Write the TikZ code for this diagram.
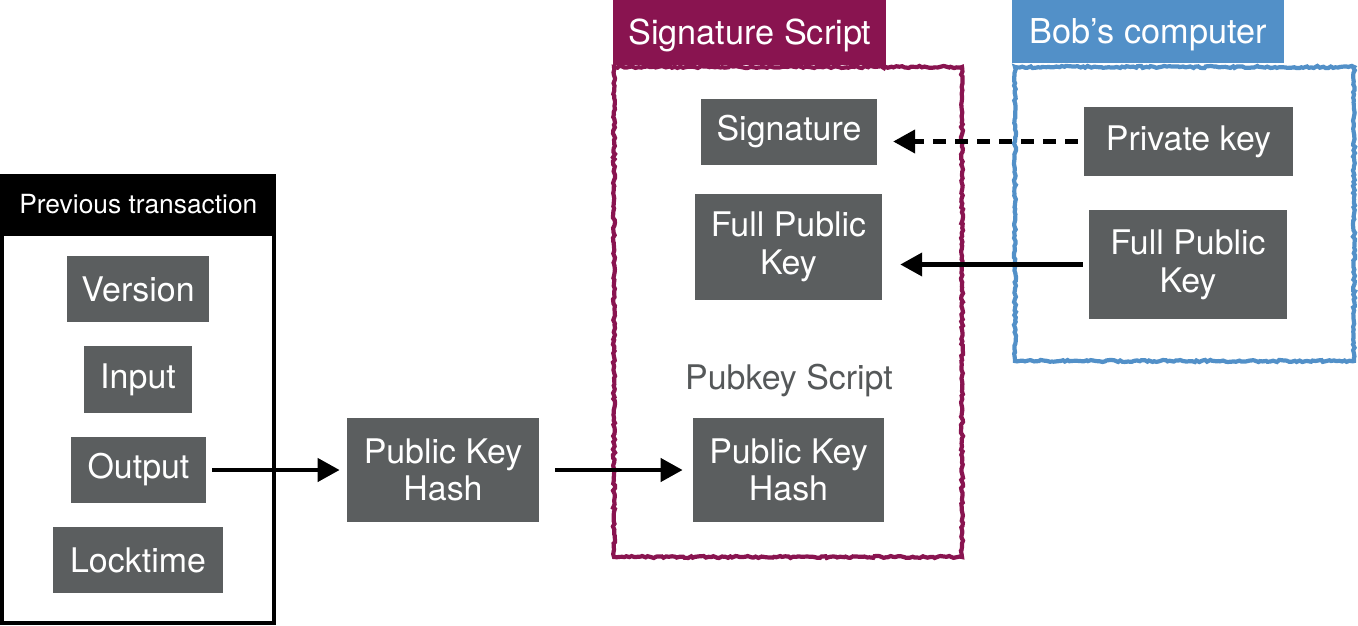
\documentclass[tikz,border=0pt]{standalone}
\usepackage{fontspec}
\setmainfont{TeX Gyre Heros}
\usetikzlibrary{arrows.meta,decorations.pathmorphing}
\definecolor{boxgray}{RGB}{91,94,95}
\definecolor{sigred}{RGB}{137,20,80}
\definecolor{bobblue}{RGB}{82,144,200}
\definecolor{labelgray}{RGB}{85,88,89}
\begin{document}
\begin{tikzpicture}[x=0.02cm,y=-0.02cm,>={Triangle[length=12.5pt,width=13pt]},
    field/.style={fill=boxgray,text=white,inner sep=0pt,align=center,
      font=\fontsize{19.3}{21.5}\selectfont},
    head/.style={inner sep=0pt,text=white,anchor=north west,text depth=0.1em,
      font=\fontsize{19.5}{22}\selectfont},
    rough/.style={line width=2.4pt,decorate,
      decoration={random steps,segment length=1.5pt,amplitude=0.6pt}},
    arr/.style={->,line width=2.6pt}
  ]
  \pgfmathsetseed{7}
  \useasboundingbox (0,0) rectangle (1358,625);
  % previous transaction
  \node[head,fill=black,minimum width=5.52cm,minimum height=1.22cm,
    font=\fontsize{15}{18}\selectfont] (prevhead) at (0,174) {Previous transaction};
  \draw[line width=2.4pt] (2,234) rectangle (274,623);
  \node[field,minimum width=2.84cm,minimum height=1.32cm] (version) at (138,289) {Version};
  \node[field,minimum width=2.16cm,minimum height=1.34cm] (input) at (138,379.5) {Input};
  \node[field,minimum width=2.7cm,minimum height=1.32cm] (output) at (138.5,470) {Output};
  \node[field,minimum width=3.4cm,minimum height=1.32cm] (locktime) at (138,560) {Locktime};

  \node[field,minimum width=3.84cm,minimum height=2.1cm] (pkhash) at (443,470) {Public Key\\Hash};

  % signature script
  \node[head,fill=sigred,minimum width=5.46cm,minimum height=1.3cm] (sighead) at (613,0) {Signature Script};
  \draw[rough,sigred] (614,67) rectangle (962,557);
  \node[field,minimum width=3.52cm,minimum height=1.32cm] (sig) at (789,132) {Signature};
  \node[field,minimum width=3.74cm,minimum height=2.12cm] (fullkey) at (788.5,247) {Full Public\\Key};
  \node[text=labelgray,inner sep=0pt,anchor=base,font=\fontsize{19.3}{21.5}\selectfont]
    (pklabel) at (789,389) {Pubkey Script};
  \node[field,minimum width=3.82cm,minimum height=2.1cm] (pkscript) at (788.5,470) {Public Key\\Hash};

  % bob's computer
  \node[head,fill=bobblue,minimum width=5.44cm,minimum height=1.26cm] (bobhead) at (1012,0) {Bob’s computer};
  \draw[rough,bobblue] (1015,67) rectangle (1354,361);
  \node[field,minimum width=4.18cm,minimum height=1.38cm] (privkey) at (1188.5,141.5) {Private key};
  \node[field,minimum width=3.96cm,minimum height=2.18cm] (bobkey) at (1188,264.5) {Full Public\\Key};

  \draw[arr,shorten <=3.4pt,shorten >=4pt] (output) -- (pkhash);
  \draw[arr,shorten <=9pt,shorten >=5.7pt] (pkhash) -- (pkscript);
  \draw[arr,dash pattern=on 7.5pt off 5pt,shorten <=3.4pt,shorten >=9pt]
    (privkey.west) -- (privkey.west -| sig.east);
  \draw[arr,shorten <=3.4pt,shorten >=10.2pt] (bobkey.west) -- (bobkey.west -| fullkey.east);
\end{tikzpicture}
\end{document}
